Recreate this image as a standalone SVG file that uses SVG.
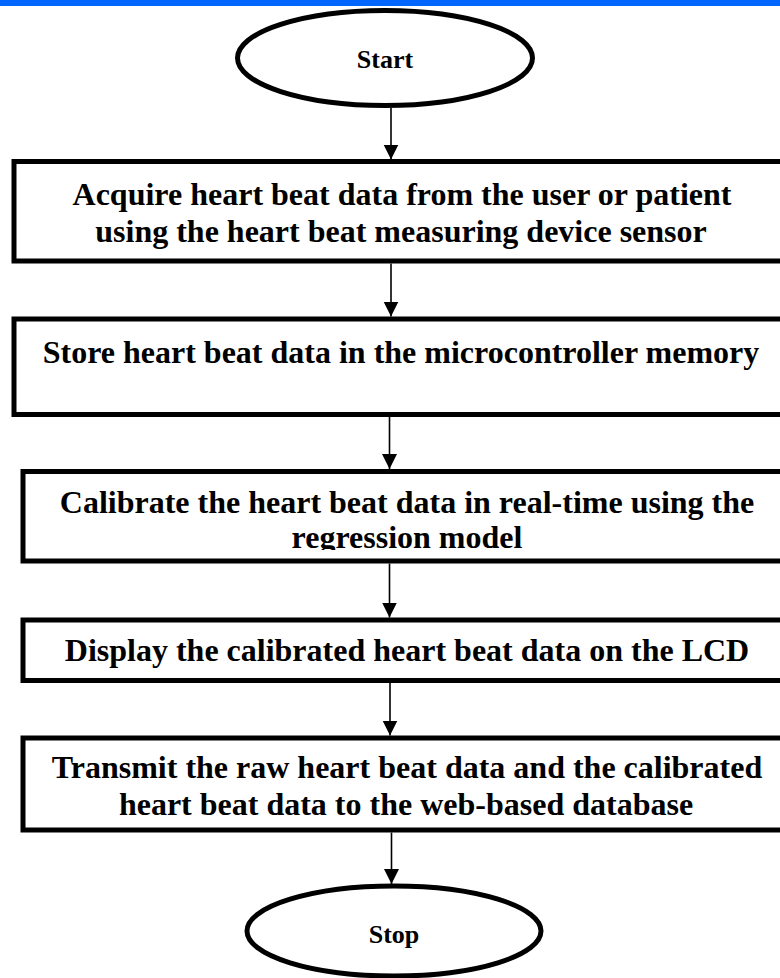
<svg xmlns="http://www.w3.org/2000/svg" width="780" height="978" viewBox="0 0 780 978">
<style>
  .box { fill: #ffffff; stroke: #000000; stroke-width: 5; }
  .term { fill: #ffffff; stroke: #000000; stroke-width: 5; }
  .lbl { font-family: "Liberation Serif", "Times New Roman", serif; font-weight: bold; font-size: 32px; fill: #000000; text-anchor: middle; }
  .tlbl { font-family: "Liberation Serif", "Times New Roman", serif; font-weight: bold; font-size: 26px; fill: #000000; text-anchor: middle; }
  .conn { stroke: #000000; stroke-width: 1.6; fill: none; marker-end: url(#arrow); }
</style>
<defs>
  <marker id="arrow" markerUnits="userSpaceOnUse" markerWidth="16" markerHeight="16" refX="15" refY="7.5" orient="auto">
    <path d="M0,0 L15,7.5 L0,15 z" fill="#000000"/>
  </marker>
  <clipPath id="clip3">
    <rect x="0" y="470" width="780" height="80"/>
  </clipPath>
</defs>
<rect x="0" y="0" width="780" height="978" fill="#ffffff"/>
<rect x="0" y="0" width="780" height="6" fill="#0066ff"/>

<g id="start">
  <ellipse class="term" cx="385" cy="58" rx="147.5" ry="47.5"/>
  <text class="tlbl" x="385" y="68">Start</text>
</g>

<g id="acquire">
  <rect class="box" x="14" y="161.5" width="800" height="99.5"/>
  <text class="lbl" x="402" y="205">Acquire heart beat data from the user or patient</text>
  <text class="lbl" x="401" y="242">using the heart beat measuring device sensor</text>
</g>

<g id="store">
  <rect class="box" x="14" y="319" width="800" height="95.5"/>
  <text class="lbl" x="401" y="363">Store heart beat data in the microcontroller memory</text>
</g>

<g id="calibrate">
  <rect class="box" x="23" y="471.5" width="800" height="89.5"/>
  <text class="lbl" x="407" y="513">Calibrate the heart beat data in real-time using the</text>
  <text class="lbl" x="407" y="548" clip-path="url(#clip3)">regression model</text>
</g>

<g id="display">
  <rect class="box" x="23" y="620" width="800" height="60.5"/>
  <text class="lbl" x="407" y="661">Display the calibrated heart beat data on the LCD</text>
</g>

<g id="transmit">
  <rect class="box" x="23" y="738" width="800" height="92"/>
  <text class="lbl" x="407" y="778">Transmit the raw heart beat data and the calibrated</text>
  <text class="lbl" x="406" y="815">heart beat data to the web-based database</text>
</g>

<g id="stop">
  <ellipse class="term" cx="394" cy="931" rx="147" ry="45"/>
  <text class="tlbl" x="394" y="943">Stop</text>
</g>

<g id="connectors">
  <line class="conn" x1="391" y1="108" x2="391" y2="159.5"/>
  <line class="conn" x1="391" y1="263.5" x2="391" y2="316.5"/>
  <line class="conn" x1="389.5" y1="417" x2="389.5" y2="469"/>
  <line class="conn" x1="389.5" y1="563.5" x2="389.5" y2="617.5"/>
  <line class="conn" x1="390" y1="683" x2="390" y2="735.5"/>
  <line class="conn" x1="391.5" y1="832.5" x2="391.5" y2="884"/>
</g>
</svg>
